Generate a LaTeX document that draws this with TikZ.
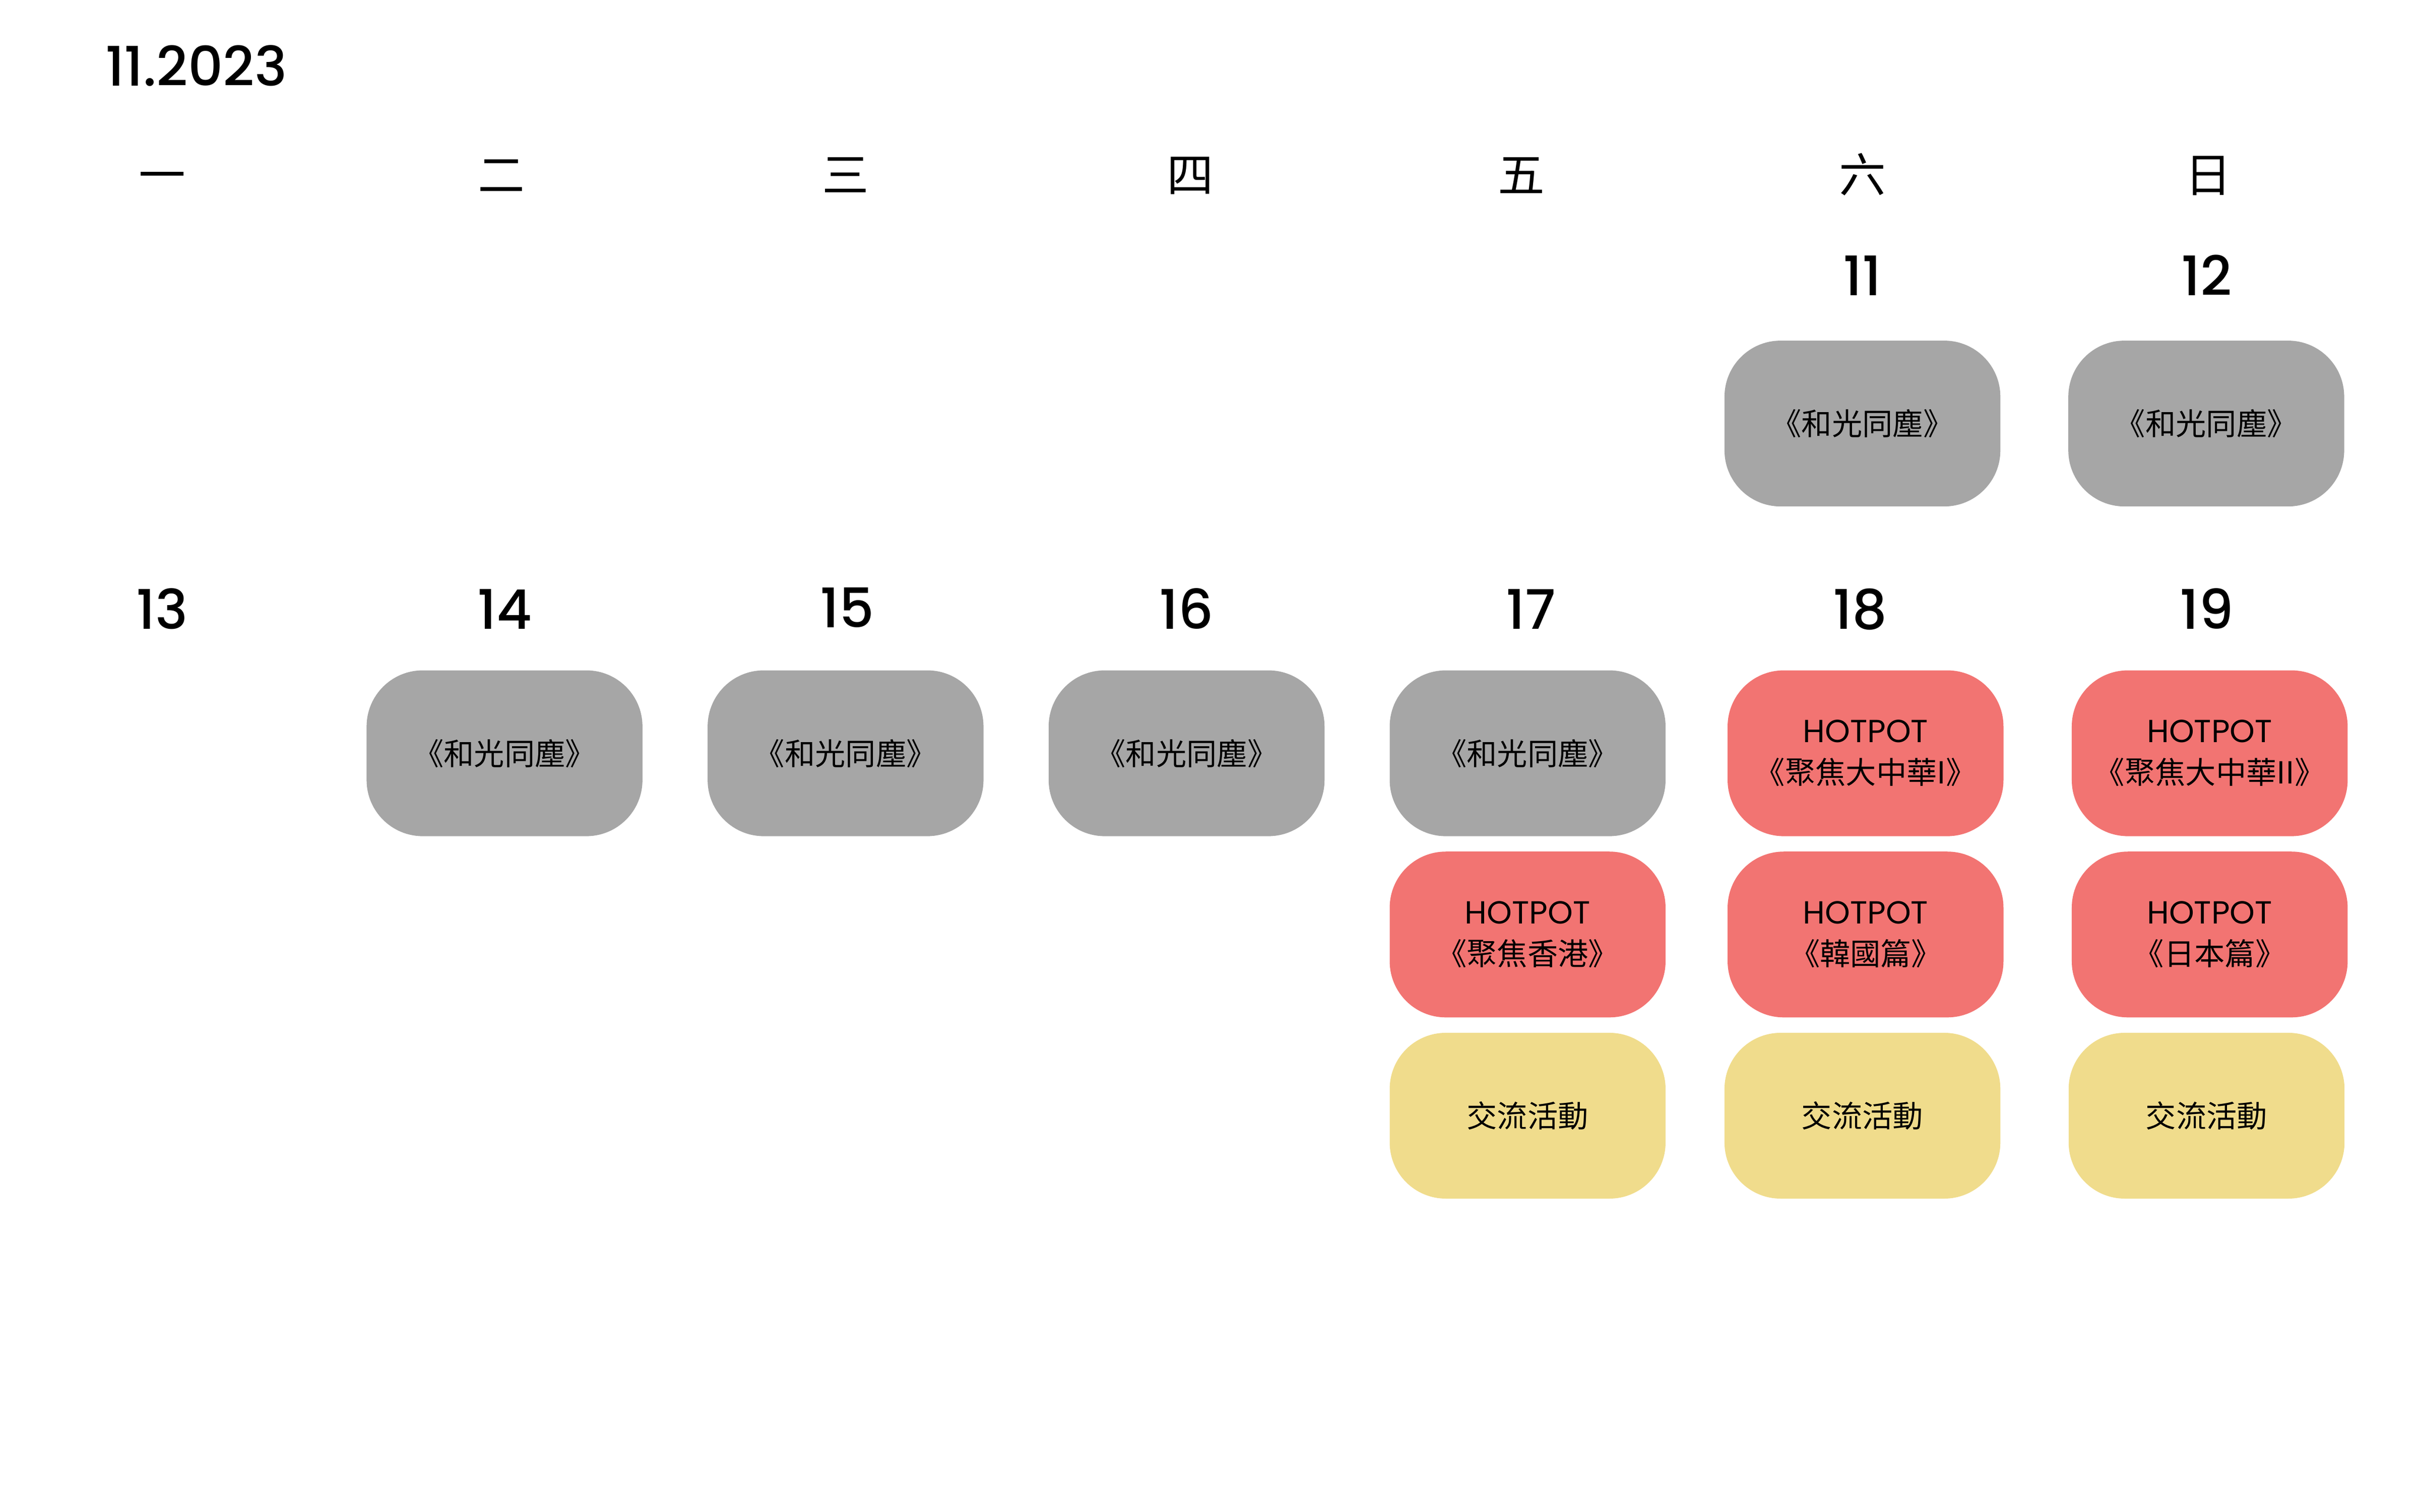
\documentclass[tikz,border=0pt]{standalone}
\usepackage{fontspec}
\setmainfont{Noto Sans CJK TC}
\newfontfamily\cjk{Noto Sans CJK TC}
\newfontfamily\latin{Poppins}
\newfontfamily\latinmed{Poppins Medium}
\newcommand\hotfont{\latin\fontsize{20.5}{26.5}\selectfont}
\usetikzlibrary{positioning}
\definecolor{filmgray}{RGB}{166,166,166}
\definecolor{hotred}{RGB}{242,116,114}
\definecolor{meetyellow}{RGB}{240,220,140}

\begin{document}
\begin{tikzpicture}[x=1pt,y=-1pt,
            node distance = 9.5pt,
            wday/.style = {font=\fontsize{30}{30}\selectfont\cjk,inner sep=0pt,
                text height=25.5pt,text depth=3.5pt},
            dnum/.style = {font=\fontsize{35}{35}\selectfont\latinmed,
                inner sep=0pt,anchor=base},
            box/.style = {rounded corners=36pt,minimum width=177pt,
                minimum height=106.4pt,inner sep=0pt,align=center,
                font=\fontsize{19.5}{26.5}\selectfont\cjk},
            film/.style = {box,fill=filmgray},
            hot/.style = {box,fill=hotred},
            meet/.style = {box,fill=meetyellow}]
            \useasboundingbox (0,0) rectangle (1552,970);
            \node[dnum,anchor=base west] (title) at (67.4,55.2) {11.2023};
            % weekdays
            \node[wday] (w1) at (104,112.4) {一};
            \node[wday] (w2) at (321.8,112.4) {二};
            \node[wday] (w3) at (542.5,112.4) {三};
            \node[wday] (w4) at (763.6,112.4) {四};
            \node[wday] (w5) at (976.1,112.4) {五};
            \node[wday] (w6) at (1194.9,112.4) {六};
            \node[wday] (w7) at (1416.7,112.4) {日};
            % first week
            \node[dnum] (d11) at (1194.9,189.5) {11};
            \node[dnum] (d12) at (1415.7,189.5) {12};
            \node[film] (f11) at (1194.9,271.8) {《和光同塵》};
            \node[film] (f12) at (1415.5,271.8) {《和光同塵》};
            % second week
            \node[dnum] (d13) at (104,403.6) {13};
            \node[dnum] (d14) at (323.7,403.6) {14};
            \node[dnum] (d15) at (543.5,402.6) {15};
            \node[dnum] (d16) at (761.3,403.6) {16};
            \node[dnum] (d17) at (982.1,403.6) {17};
            \node[dnum] (d18) at (1193.3,403.6) {18};
            \node[dnum] (d19) at (1415.7,403.6) {19};
            \node[film] (f14) at (323.7,483.4) {《和光同塵》};
            \node[film] (f15) at (542.5,483.4) {《和光同塵》};
            \node[film] (f16) at (761.3,483.4) {《和光同塵》};
            \node[film] (f17) at (980.1,483.4) {《和光同塵》};
            \node[hot] (h18a) at (1196.9,483.4) {{\hotfont HOTPOT}\\《聚焦大中華I》};
            \node[hot] (h19a) at (1417.7,483.4) {{\hotfont HOTPOT}\\《聚焦大中華II》};
            \node[hot,below=of f17] (h17) {{\hotfont HOTPOT}\\《聚焦香港》};
            \node[hot,below=of h18a] (h18b) {{\hotfont HOTPOT}\\《韓國篇》};
            \node[hot,below=of h19a] (h19b) {{\hotfont HOTPOT}\\《日本篇》};
            \node[meet,below=of h17] (m17) {交流活動};
            \node[meet,below=of h18b,xshift=-2pt] (m18) {交流活動};
            \node[meet,below=of h19b,xshift=-2pt] (m19) {交流活動};
        \end{tikzpicture}
\end{document}
